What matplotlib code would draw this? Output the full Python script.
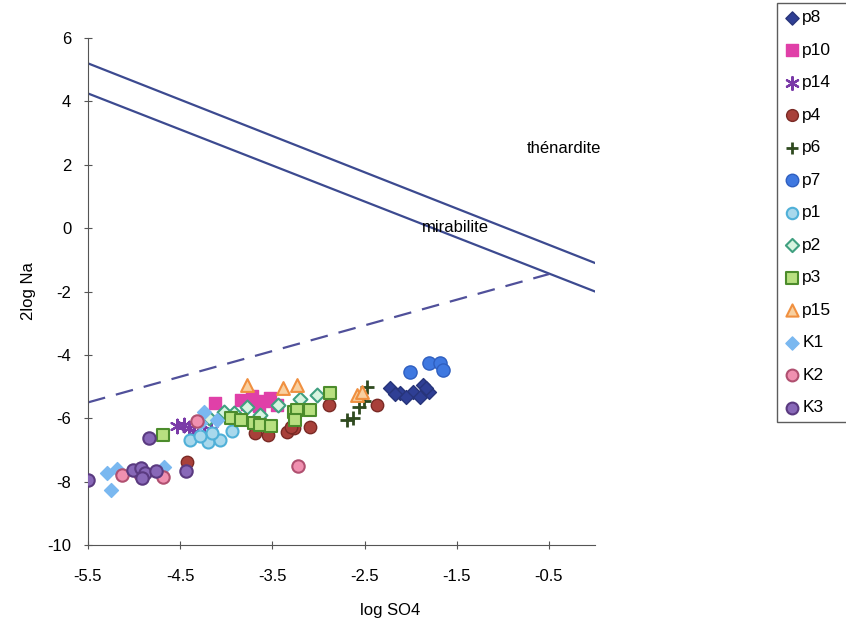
import matplotlib
matplotlib.use("Agg")
import matplotlib.pyplot as plt

plt.rcParams['font.family'] = ['Liberation Sans', 'DejaVu Sans']
plt.rcParams['axes.unicode_minus'] = False

# saturation lines and dashed trend
line_x = [-5.5, 0.0]
thenardite_y = [5.2, -1.1]
mirabilite_y = [4.25, -2.0]
dash_x = [-5.5, -0.5]
dash_y = [-5.5, -1.45]

p8_x = [-2.22, -2.12, -1.97, -1.87, -1.90, -1.80, -2.05, -2.17, -1.83]
p8_y = [-5.04, -5.20, -5.17, -4.95, -5.32, -5.17, -5.32, -5.25, -5.05]
p10_x = [-4.12, -3.84, -3.72, -3.59, -3.45, -3.65, -3.78, -3.53]
p10_y = [-5.53, -5.42, -5.30, -5.45, -5.58, -5.60, -5.55, -5.35]
p14_x = [-4.53, -4.46, -4.35, -4.24, -4.17, -4.40]
p14_y = [-6.26, -6.21, -6.42, -6.53, -6.37, -6.30]
p4_x = [-4.43, -3.55, -3.34, -3.27, -2.89, -3.09, -2.36, -3.30, -3.69]
p4_y = [-7.37, -6.53, -6.42, -6.32, -5.58, -6.27, -5.58, -6.27, -6.45]
p6_x = [-2.47, -2.56, -2.63, -2.69, -2.51]
p6_y = [-5.00, -5.64, -6.00, -6.05, -5.45]
p7_x = [-2.01, -1.80, -1.68, -1.65]
p7_y = [-4.53, -4.25, -4.25, -4.47]
p1_x = [-4.39, -4.20, -4.07, -4.15, -3.94, -4.28]
p1_y = [-6.68, -6.74, -6.68, -6.47, -6.40, -6.55]
p2_x = [-4.03, -3.92, -3.77, -3.63, -3.44, -3.02, -3.20, -4.19]
p2_y = [-5.79, -5.84, -5.63, -5.89, -5.58, -5.26, -5.40, -6.00]
p3_x = [-4.69, -3.95, -3.84, -3.70, -3.63, -3.52, -3.27, -2.88, -3.23, -3.09, -3.25]
p3_y = [-6.53, -6.00, -6.05, -6.16, -6.21, -6.26, -5.79, -5.20, -5.74, -5.74, -6.05]
p15_x = [-3.77, -3.39, -3.23, -2.58, -2.53]
p15_y = [-4.95, -5.05, -4.95, -5.26, -5.17]
K1_x = [-5.29, -5.25, -5.19, -4.68, -4.24, -4.10, -4.28]
K1_y = [-7.74, -8.26, -7.60, -7.53, -5.79, -6.05, -6.16]
K2_x = [-5.13, -4.69, -4.32, -3.22, -4.94]
K2_y = [-7.80, -7.85, -6.10, -7.50, -7.75]
K3_x = [-5.50, -5.01, -4.93, -4.88, -4.76, -4.91, -4.44, -4.84]
K3_y = [-7.95, -7.63, -7.58, -7.74, -7.68, -7.90, -7.68, -6.63]

series = [
    ("p8", p8_x, p8_y, dict(marker="D", s=50, c="#2F3F95", edgecolors="#27347a")),
    ("p10", p10_x, p10_y, dict(marker="s", s=75, c="#E040A8", edgecolors="#E040A8")),
    ("p14", p14_x, p14_y, dict(marker=(6, 2, 0), s=95, c="#7A3AA8", linewidths=1.6)),
    ("p4", p4_x, p4_y, dict(marker="o", s=80, c="#A8403A", edgecolors="#7a2a25")),
    ("p6", p6_x, p6_y, dict(marker="+", s=95, c="#2F4A1F", linewidths=2)),
    ("p7", p7_x, p7_y, dict(marker="o", s=90, c="#3F78E0", edgecolors="#2f5fc0")),
    ("p1", p1_x, p1_y, dict(marker="o", s=75, c="#A8D8EC", edgecolors="#4FB0D8", linewidths=1.5)),
    ("p2", p2_x, p2_y, dict(marker="D", s=50, c="#D8F4E0", edgecolors="#40A080", linewidths=1.5)),
    ("p3", p3_x, p3_y, dict(marker="s", s=75, c="#B8E080", edgecolors="#4C8C2C", linewidths=1.5)),
    ("p15", p15_x, p15_y, dict(marker="^", s=85, c="#F8D0A0", edgecolors="#F09040", linewidths=1.5)),
    ("K1", K1_x, K1_y, dict(marker="D", s=50, c="#7AB8F0", edgecolors="#7AB8F0")),
    ("K2", K2_x, K2_y, dict(marker="o", s=80, c="#F090B0", edgecolors="#B05070", linewidths=1.5)),
    ("K3", K3_x, K3_y, dict(marker="o", s=80, c="#8868B8", edgecolors="#5A3A80", linewidths=1.5)),
]

fig = plt.figure(figsize=(8.46, 6.29), dpi=100)
ax = fig.add_axes([88 / 846, 1 - 545 / 629, (595 - 88) / 846, (545 - 38) / 629])

ax.plot(line_x, thenardite_y, color="#3C4A90", lw=1.6)
ax.plot(line_x, mirabilite_y, color="#3C4A90", lw=1.6)
ax.plot(dash_x, dash_y, color="#50509A", lw=1.6, ls=(0, (8, 5)))

handles = []
for name, xs, ys, kw in series:
    h = ax.scatter(xs, ys, label=name, zorder=3, **kw)
    handles.append(h)

ax.text(-0.34, 2.5, "thénardite", fontsize=12, ha="center", va="center")
ax.text(-1.51, 0.02, "mirabilite", fontsize=12, ha="center", va="center")

ax.set_xlim(-5.5, 0)
ax.set_ylim(-10, 6)
ax.set_xticks([-5.5, -4.5, -3.5, -2.5, -1.5, -0.5])
ax.set_xticklabels(["-5.5", "-4.5", "-3.5", "-2.5", "-1.5", "-0.5"])
ax.set_yticks(range(-10, 7, 2))
ax.tick_params(labelsize=12, direction="inout", length=6, color="#555555")
ax.tick_params(axis="x", pad=14)
ax.tick_params(axis="y", pad=9)
ax.spines["top"].set_visible(False)
ax.spines["right"].set_visible(False)
ax.spines["left"].set_color("#555555")
ax.spines["bottom"].set_color("#555555")
ax.set_xlabel("log SO4", fontsize=12)
ax.set_ylabel("2log Na", fontsize=12)
ax.xaxis.set_label_coords(302 / 507, -(610 - 545) / 507)
ax.yaxis.set_label_coords(-(88 - 28) / 507, 0.5)
ax.xaxis.label.set_va("center")
ax.yaxis.label.set_va("center")

leg = fig.legend(handles=handles, loc="upper left",
                 bbox_to_anchor=(777 / 846, 0, 0.1, 1 - 3 / 629), mode="expand",
                 fontsize=12.5, frameon=True, fancybox=False, handletextpad=0.15,
                 borderpad=0.4, borderaxespad=0, labelspacing=1.0, handlelength=0.9,
                 scatterpoints=1, markerscale=0.95)
leg.get_frame().set_edgecolor("#333333")
leg.get_frame().set_linewidth(1.0)

fig.savefig("out.png", dpi=100)
